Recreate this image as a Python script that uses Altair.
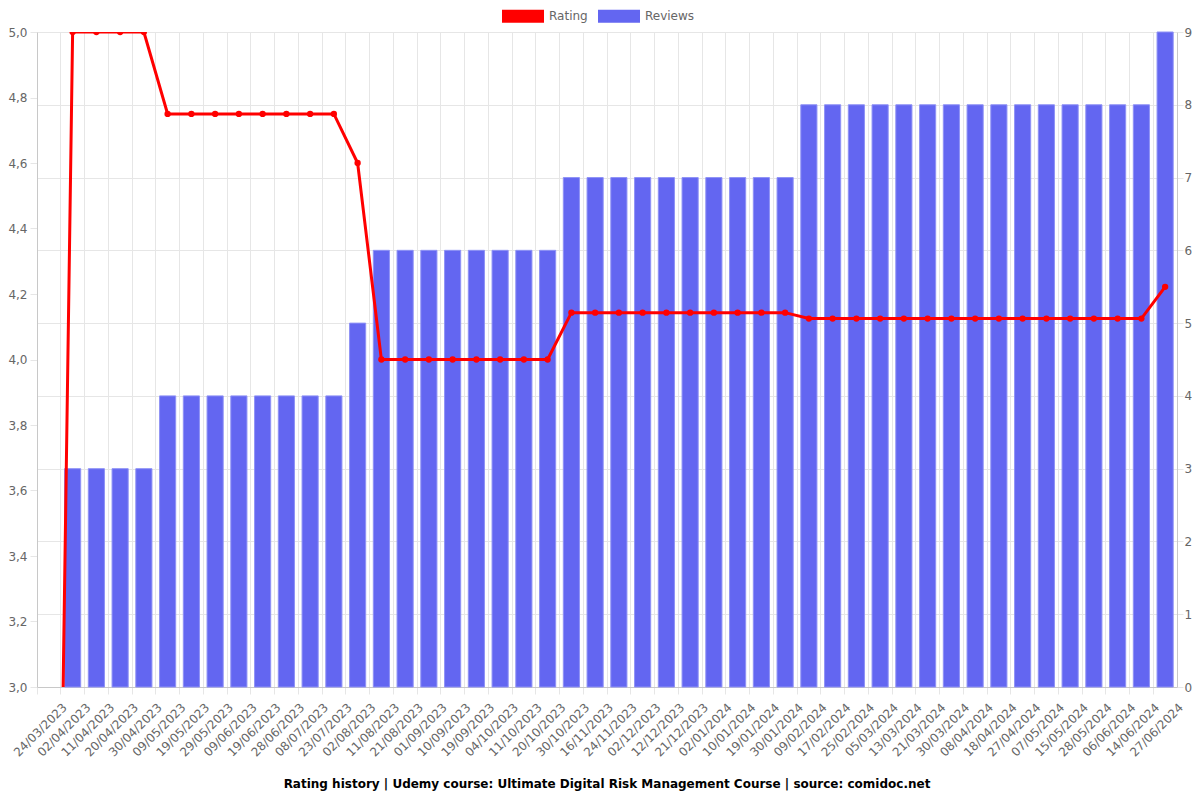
import altair as alt
import pandas as pd

dates = ["24/03/2023", "02/04/2023", "11/04/2023", "20/04/2023", "30/04/2023", "09/05/2023",
         "19/05/2023", "29/05/2023", "09/06/2023", "19/06/2023", "28/06/2023", "08/07/2023",
         "23/07/2023", "02/08/2023", "11/08/2023", "21/08/2023", "01/09/2023", "10/09/2023",
         "19/09/2023", "04/10/2023", "11/10/2023", "20/10/2023", "30/10/2023", "16/11/2023",
         "24/11/2023", "02/12/2023", "12/12/2023", "21/12/2023", "02/01/2024", "10/01/2024",
         "19/01/2024", "30/01/2024", "09/02/2024", "17/02/2024", "25/02/2024", "05/03/2024",
         "13/03/2024", "21/03/2024", "30/03/2024", "08/04/2024", "18/04/2024", "27/04/2024",
         "07/05/2024", "15/05/2024", "28/05/2024", "06/06/2024", "14/06/2024", "27/06/2024"]

reviews = [0, 3, 3, 3, 3, 4, 4, 4, 4, 4, 4, 4, 4, 5, 6, 6, 6, 6, 6, 6, 6, 6,
           7, 7, 7, 7, 7, 7, 7, 7, 7, 7,
           8, 8, 8, 8, 8, 8, 8, 8, 8, 8, 8, 8, 8, 8, 8, 9]

rating = [0, 5.0, 5.0, 5.0, 5.0, 4.75, 4.75, 4.75, 4.75, 4.75, 4.75, 4.75, 4.75, 4.6,
          4.0, 4.0, 4.0, 4.0, 4.0, 4.0, 4.0, 4.0,
          4.143, 4.143, 4.143, 4.143, 4.143, 4.143, 4.143, 4.143, 4.143, 4.143,
          4.125, 4.125, 4.125, 4.125, 4.125, 4.125, 4.125, 4.125, 4.125, 4.125,
          4.125, 4.125, 4.125, 4.125, 4.125, 4.222]

df = pd.DataFrame({"date": dates, "reviews": reviews, "rating": rating})

W, H = 1140, 655
step = W / len(dates)
FONT = "DejaVu Sans"
GRID = "#e6e6e6"
DOMAIN = "#c8c8c8"
LABEL = "#666666"

x_axis = alt.Axis(bandPosition=0, labelOffset=step / 2 + 4, labelAngle=-45, labelFontSize=12,
                  labelColor=LABEL, labelFont=FONT, grid=True, gridColor=GRID,
                  tickColor=GRID, tickSize=7, domainColor=DOMAIN, labelPadding=11,
                  labelAlign="right", labelBaseline="middle")
x = alt.X("date:N", sort=dates, title=None,
          scale=alt.Scale(paddingInner=0, paddingOuter=0), axis=x_axis)

color = alt.Color("series:N",
                  scale=alt.Scale(domain=["Rating", "Reviews"], range=["#ff0000", "#6366f1"]),
                  legend=alt.Legend(title=None, orient="none", direction="horizontal",
                                    legendX=465, legendY=-37, symbolType="M-1,-0.31H1V0.31H-1Z",
                                    symbolSize=1764, symbolStrokeWidth=0, labelFontSize=12,
                                    labelColor=LABEL, labelFont=FONT, columnPadding=10,
                                    labelOffset=5, padding=0))

bars = alt.Chart(df).transform_calculate(series="'Reviews'").transform_filter(
    "datum.reviews > 0"
).mark_bar(
    width=alt.RelativeBandSize(0.68), stroke="#8f92f6", strokeWidth=1
).encode(
    x=x,
    y=alt.Y("reviews:Q", title=None, scale=alt.Scale(domain=[0, 9]),
            axis=alt.Axis(orient="right", values=list(range(10)), labelFontSize=12,
                          labelColor=LABEL, labelFont=FONT, gridColor=GRID, tickColor=GRID,
                          tickSize=6, domainColor=DOMAIN, labelPadding=1)),
    color=color,
)

y_rating = alt.Y("rating:Q", title=None, scale=alt.Scale(domain=[3, 5]),
                 axis=alt.Axis(orient="left", values=[3.0, 3.2, 3.4, 3.6, 3.8, 4.0, 4.2, 4.4, 4.6, 4.8, 5.0],
                               labelExpr="replace(format(datum.value, '.1f'), '.', ',')",
                               labelFontSize=12, labelColor=LABEL, labelFont=FONT,
                               gridColor=GRID, tickColor=GRID, tickSize=7,
                               domainColor=DOMAIN, labelPadding=3))

line = alt.Chart(df).transform_calculate(series="'Rating'").mark_line(
    strokeWidth=3, clip=True
).encode(x=x, y=y_rating, color=color)

points = alt.Chart(df).transform_calculate(series="'Rating'").mark_point(
    filled=True, size=40, opacity=1, clip=True
).encode(x=x, y=y_rating, color=color)

chart = alt.layer(bars, alt.layer(line, points)).resolve_scale(y="independent").properties(
    width=W, height=H,
    autosize=alt.AutoSizeParams(type="none"),
    padding={"left": 29, "top": 24, "right": 15, "bottom": 104},
    title=alt.TitleParams(
        "Rating history | Udemy course: Ultimate Digital Risk Management Course | source: comidoc.net",
        orient="bottom", anchor="middle", fontSize=12, fontWeight="bold", font=FONT,
        color="#000000", offset=21),
).configure_view(stroke=None)

chart.save("out.html", embed_options={"renderer": "svg", "actions": False})
